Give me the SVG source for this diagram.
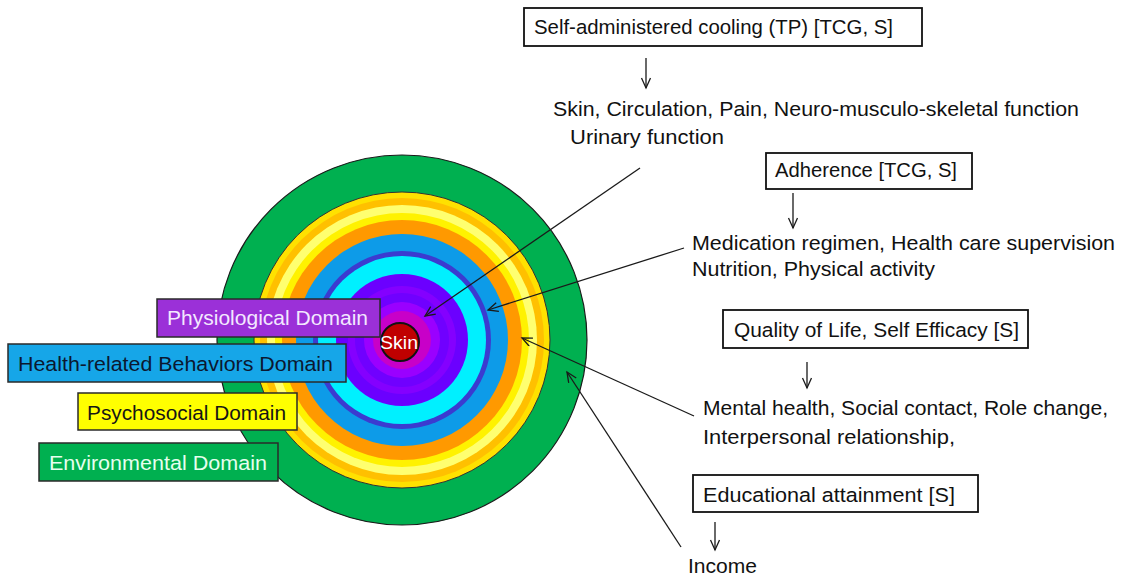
<svg xmlns="http://www.w3.org/2000/svg" width="1125" height="581" viewBox="0 0 1125 581">
  <defs>
    <marker id="openHead" markerUnits="userSpaceOnUse" markerWidth="14" markerHeight="12" refX="11" refY="5" orient="auto">
      <path d="M1,0.5 L11,5 L1,9.5" fill="none" stroke="#1a1a1a" stroke-width="1.3"/>
    </marker>
    <style>
      text { font-family: "Liberation Sans", Arial, sans-serif; }
      .lbl { font-size: 20.5px; fill: #111; }
      .dom { font-size: 20.5px; }
      .box { fill: #fff; stroke: #111; stroke-width: 1.8; }
      .dbox { stroke: #2a2a2a; stroke-width: 1.5; }
      .conn { stroke: #1a1a1a; stroke-width: 1.3; fill: none; marker-end: url(#openHead); }
    </style>
  </defs>

  <rect width="1125" height="581" fill="#ffffff"/>

  <!-- concentric domain rings -->
  <g id="rings">
    <circle cx="402" cy="340" r="185" fill="#00B050" stroke="#1a1a1a" stroke-width="1.2"/>
    <circle cx="402" cy="340" r="148" fill="#FFE100" stroke="#333" stroke-width="1"/>
    <circle cx="402" cy="340" r="142" fill="#FFC000"/>
    <circle cx="402" cy="340" r="135" fill="#FFFF70"/>
    <circle cx="402" cy="340" r="127" fill="#FFF200"/>
    <circle cx="402" cy="340" r="120" fill="#FF9900"/>
    <circle cx="402" cy="340" r="106" fill="#0D9BE8"/>
    <circle cx="402" cy="340" r="89" fill="#3B3BD0"/>
    <circle cx="402" cy="340" r="84" fill="#00F0FF"/>
    <circle cx="402" cy="340" r="66" fill="#6B00FF"/>
    <circle cx="402" cy="340" r="54" fill="#8400FF"/>
    <circle cx="402" cy="340" r="47" fill="#7000FF"/>
    <circle cx="402" cy="340" r="38" fill="#9A00FF"/>
    <circle cx="402" cy="340" r="29" fill="#C800C8"/>
  </g>

  <g id="skin">
    <circle cx="400" cy="342" r="19" fill="#C00000" stroke="#111" stroke-width="2"/>
    <text x="399" y="349" font-size="17.5" fill="#ffffff" text-anchor="middle" textLength="38" lengthAdjust="spacingAndGlyphs">Skin</text>
  </g>

  <!-- domain labels -->
  <g id="physiological-domain">
    <rect class="dbox" x="157" y="299" width="223" height="38" fill="#9B30D8"/>
    <text class="dom" x="167" y="325" fill="#F3E8FF" textLength="201" lengthAdjust="spacingAndGlyphs">Physiological Domain</text>
  </g>
  <g id="behaviors-domain">
    <rect class="dbox" x="8" y="344" width="338" height="38" fill="#16A6E8"/>
    <text class="dom" x="18" y="371" fill="#0B1830" textLength="315" lengthAdjust="spacingAndGlyphs">Health-related Behaviors Domain</text>
  </g>
  <g id="psychosocial-domain">
    <rect class="dbox" x="78" y="393" width="219" height="37" fill="#FFFF00"/>
    <text class="dom" x="87" y="420" fill="#161616" textLength="199" lengthAdjust="spacingAndGlyphs">Psychosocial Domain</text>
  </g>
  <g id="environmental-domain">
    <rect class="dbox" x="39" y="443" width="239" height="38" fill="#00B050"/>
    <text class="dom" x="49" y="470" fill="#E6FFEE" textLength="218" lengthAdjust="spacingAndGlyphs">Environmental Domain</text>
  </g>

  <!-- factor boxes and outcome texts -->
  <g id="cooling">
    <rect class="box" x="524" y="8" width="398" height="38"/>
    <text class="lbl" x="534" y="34" textLength="359" lengthAdjust="spacingAndGlyphs">Self-administered cooling (TP) [TCG, S]</text>
  </g>
  <g id="physiological-outcomes">
    <text class="lbl" x="553" y="116" textLength="526" lengthAdjust="spacingAndGlyphs">Skin, Circulation, Pain, Neuro-musculo-skeletal function</text>
    <text class="lbl" x="570" y="144" textLength="154" lengthAdjust="spacingAndGlyphs">Urinary function</text>
  </g>
  <g id="adherence">
    <rect class="box" x="766" y="153" width="206" height="36"/>
    <text class="lbl" x="775" y="177" textLength="182" lengthAdjust="spacingAndGlyphs">Adherence [TCG, S]</text>
  </g>
  <g id="behavior-outcomes">
    <text class="lbl" x="692" y="250" textLength="423" lengthAdjust="spacingAndGlyphs">Medication regimen, Health care supervision</text>
    <text class="lbl" x="692" y="276" textLength="243" lengthAdjust="spacingAndGlyphs">Nutrition, Physical activity</text>
  </g>
  <g id="quality-of-life">
    <rect class="box" x="723" y="310" width="305" height="38"/>
    <text class="lbl" x="734" y="337" textLength="285" lengthAdjust="spacingAndGlyphs">Quality of Life, Self Efficacy [S]</text>
  </g>
  <g id="psychosocial-outcomes">
    <text class="lbl" x="703" y="415" textLength="405" lengthAdjust="spacingAndGlyphs">Mental health, Social contact, Role change,</text>
    <text class="lbl" x="703" y="444" textLength="252" lengthAdjust="spacingAndGlyphs">Interpersonal relationship,</text>
  </g>
  <g id="education">
    <rect class="box" x="693" y="475" width="285" height="37"/>
    <text class="lbl" x="703" y="502" textLength="252" lengthAdjust="spacingAndGlyphs">Educational attainment [S]</text>
  </g>
  <g id="income">
    <text class="lbl" x="688" y="573" textLength="69" lengthAdjust="spacingAndGlyphs">Income</text>
  </g>

  <!-- connectors -->
  <g id="connectors">
    <line class="conn" x1="646" y1="58" x2="646" y2="88"/>
    <line class="conn" x1="793" y1="193" x2="793" y2="228"/>
    <line class="conn" x1="807" y1="362" x2="807" y2="388"/>
    <line class="conn" x1="715" y1="522" x2="715" y2="550"/>
    <line class="conn" x1="640" y1="168" x2="425" y2="316"/>
    <line class="conn" x1="684" y1="248" x2="488" y2="310"/>
    <line class="conn" x1="694" y1="416" x2="522" y2="338"/>
    <line class="conn" x1="681" y1="547" x2="567" y2="372"/>
  </g>
</svg>
